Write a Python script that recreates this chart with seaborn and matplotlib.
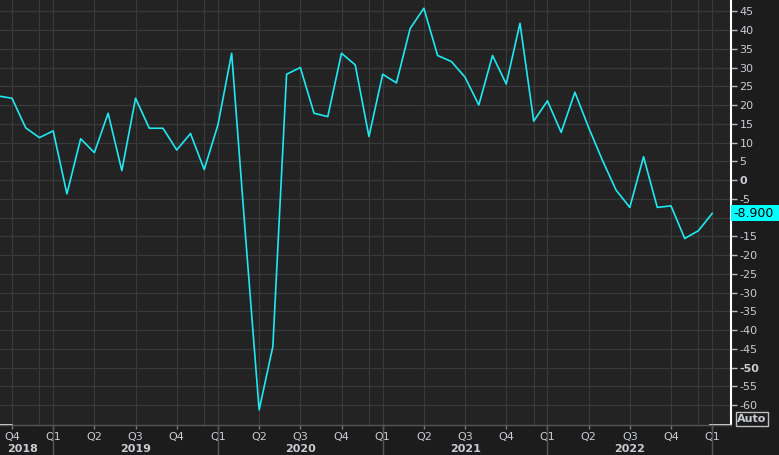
import numpy as np
import pandas as pd
import matplotlib
matplotlib.use("Agg")
from matplotlib import pyplot as plt
import matplotlib.transforms as mtransforms
from matplotlib.patches import Rectangle
import seaborn as sns

# monthly index readings, Sep 2018 .. Jan 2023
vals_2018 = [22.4, 21.8, 13.9, 11.3]
vals_2019 = [13.1, -3.7, 11.0, 7.3, 17.8, 2.5, 21.8, 13.8, 13.8, 8.0, 12.4, 2.8]
vals_2020 = [14.7, 33.8, -14.5, -61.3, -44.4, 28.2, 30.0, 17.8, 16.9, 33.8, 30.7, 11.6]
vals_2021 = [28.2, 25.9, 40.4, 45.8, 33.2, 31.6, 27.4, 20.0, 33.2, 25.6, 41.8, 15.7]
vals_2022 = [21.1, 12.7, 23.4, 14.0, 5.3, -2.7, -7.3, 6.2, -7.3, -6.9, -15.6, -13.5]
vals_2023 = [-8.9]

months = pd.period_range("2018-09", "2023-01", freq="M")
values = vals_2018 + vals_2019 + vals_2020 + vals_2021 + vals_2022 + vals_2023
y_ticks = list(range(-60, 50, 5))
bold_ticks = [0, -50]
hidden_ticks = [-10]   # sits under the last-value tag
last_label = "-8.900"

df = pd.DataFrame({"idx": np.arange(len(months)), "value": values})

BG = "#232323"
OUTER = "#1c1c1c"
GRID = "#3a3a3a"
TXT = "#c9ccd3"
LINE = "#1fe8f2"

plt.rcParams["axes.unicode_minus"] = False
fig = plt.figure(figsize=(7.79, 4.55), dpi=100, facecolor=OUTER)
ax = fig.add_axes([0, 30 / 455, 731 / 779, 425 / 455])
ax.set_facecolor(BG)

sns.lineplot(data=df, x="idx", y="value", color=LINE, lw=1.2, ax=ax, zorder=5)

ax.set_xlim(0.126, 53.37)
ax.set_ylim(-65.33, 48)

# quarter ticks
q_idx = [i for i, m in enumerate(months) if m.month in (1, 4, 7, 10)]
q_lab = ["Q%d" % months[i].quarter for i in q_idx]
ax.set_xticks(q_idx, labels=q_lab)
ax.set_yticks(y_ticks, labels=["" if t in hidden_ticks else str(t) for t in y_ticks])
ax.yaxis.tick_right()
for lbl, t in zip(ax.get_yticklabels(), y_ticks):
    if t in bold_ticks:
        lbl.set_fontweight("bold")

ax.tick_params(axis="x", length=3, width=1, color="#7a7a7a", labelcolor=TXT, labelsize=8, pad=2)
ax.tick_params(axis="y", length=4, width=1, color="#bbbbbb", labelcolor=TXT, labelsize=8, pad=2)
ax.set_xlabel("")
ax.set_ylabel("")

ax.grid(True, color=GRID, lw=0.9)
ax.set_axisbelow(True)
for i, m in enumerate(months):
    if m.month == 12:
        ax.axvline(i, color=GRID, lw=0.9, zorder=0.5)

for s in ["top", "left"]:
    ax.spines[s].set_visible(False)
ax.spines["right"].set_color("white")
ax.spines["right"].set_linewidth(1.5)
ax.spines["bottom"].set_color("#555555")
ax.spines["bottom"].set_linewidth(1)

xt = mtransforms.blended_transform_factory(ax.transData, ax.transAxes)
yt = mtransforms.blended_transform_factory(ax.transAxes, ax.transData)

# white bits on the bottom edge
ax.plot([0, 12 / 731], [0, 0], color="white", lw=1.2, transform=ax.transAxes, clip_on=False)
ax.plot([710 / 731, 1], [0, 0], color="white", lw=1.2, transform=ax.transAxes, clip_on=False)

# year separators and labels
jan_idx = [i for i, m in enumerate(months) if m.month == 1]
for i in jan_idx:
    ax.plot([i, i], [0, -30 / 425], color="#555555", lw=1, transform=xt, clip_on=False)

years = sorted(set(m.year for m in months))
for yr in years:
    start = [i for i, m in enumerate(months) if m.year == yr][0]
    if months[start].month != 1:
        ax.text(0.62, -24 / 425, str(yr), transform=xt, ha="left", va="center",
                color=TXT, fontsize=8, fontweight="bold")
    elif start + 12 < len(months):
        ax.text(start + 6, -24 / 425, str(yr), transform=xt, ha="center", va="center",
                color=TXT, fontsize=8, fontweight="bold")

# last value tag
last = values[-1]
ax.add_patch(Rectangle((1.0, last - 2.15), 48 / 731, 4.3, transform=yt, clip_on=False,
                       facecolor="#00ffff", edgecolor="none", zorder=10))
ax.text(1.0 + 2 / 731, last, last_label, transform=yt, ha="left", va="center",
        color="black", fontsize=9, zorder=11, clip_on=False)

fig.text(752 / 779, 1 - 419 / 455, "Auto", ha="center", va="center", color=TXT,
         fontsize=8, fontweight="bold",
         bbox=dict(boxstyle="square,pad=0.15", fc=OUTER, ec="#bfbfbf", lw=1))

fig.savefig("out.png", dpi=100, facecolor=OUTER)
